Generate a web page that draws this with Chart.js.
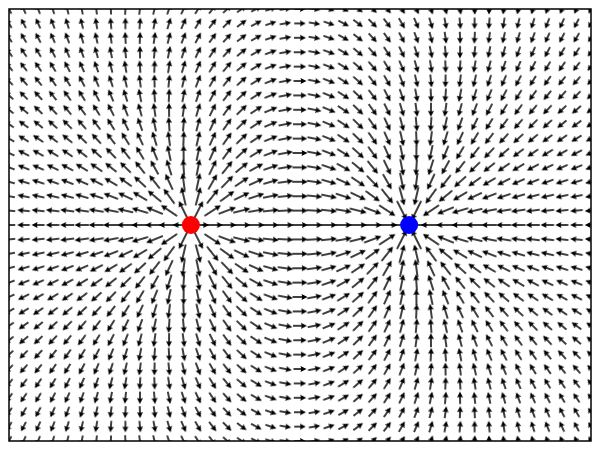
<!DOCTYPE html>
<html>
<head>
<meta charset="utf-8">
<style>
  html, body { margin: 0; padding: 0; background: #fff; }
  #wrap { width: 600px; height: 450px; }
</style>
</head>
<body>
<div id="wrap"><canvas id="myChart"></canvas></div>
<script src="https://cdn.jsdelivr.net/npm/chart.js@4/dist/chart.umd.min.js"></script>
<script>
// grid where the field arrows sit
const xGrid = [-2.0, -1.9, -1.8, -1.7, -1.6, -1.5, -1.4, -1.3, -1.2, -1.1, -1.0,
  -0.9, -0.8, -0.7, -0.6, -0.5, -0.4, -0.3, -0.2, -0.1, 0.0,
  0.1, 0.2, 0.3, 0.4, 0.5, 0.6, 0.7, 0.8, 0.9, 1.0,
  1.1, 1.2, 1.3, 1.4, 1.5, 1.6, 1.7, 1.8, 1.9, 2.0];
const yGrid = [-1.5, -1.4, -1.3, -1.2, -1.1, -1.0, -0.9, -0.8, -0.7, -0.6, -0.5,
  -0.4, -0.3, -0.2, -0.1, 0.0, 0.1, 0.2, 0.3, 0.4, 0.5,
  0.6, 0.7, 0.8, 0.9, 1.0, 1.1, 1.2, 1.3, 1.4, 1.5];

// the two point charges
const chargeX = [-0.75, 0.75];
const chargeY = [0, 0];
const chargeQ = [1, -1];
const chargeColors = ['#ff0000', '#0000ff'];

// field of the charges at (x, y)
function field(x, y) {
  let ex = 0, ey = 0;
  for (let i = 0; i < chargeQ.length; i++) {
    const dx = x - chargeX[i], dy = y - chargeY[i];
    const r3 = Math.pow(dx * dx + dy * dy, 1.5);
    ex += chargeQ[i] * dx / r3;
    ey += chargeQ[i] * dy / r3;
  }
  return [ex, ey];
}

const arrowPts = [];
yGrid.forEach(y => {
  xGrid.forEach(x => {
    const [ex, ey] = field(x, y);
    const mag = Math.hypot(ex, ey);
    let len = 13.5 + 1.8 * Math.log(mag);
    len = Math.max(8, Math.min(22, len));
    arrowPts.push({ x: x, y: y, len: len, rot: Math.atan2(-ey, ex) * 180 / Math.PI });
  });
});

// arrow pictures, centred on the grid point, pointing right
const sprites = {};
function arrowSprite(len) {
  const key = Math.round(len * 2) / 2;
  if (sprites[key]) return sprites[key];
  const half = Math.ceil(key / 2 + 3);
  const c = document.createElement('canvas');
  c.width = half * 2;
  c.height = 14;
  const g = c.getContext('2d');
  const x0 = half - key / 2, x1 = half + key / 2, cy = 7;
  const sw = 1.7, hl = Math.min(6, key * 0.5), hw = 3;
  g.fillStyle = '#000';
  g.beginPath();
  g.moveTo(x0, cy - sw / 2);
  g.lineTo(x1 - hl * 0.9, cy - sw / 2);
  g.lineTo(x1 - hl, cy - hw);
  g.lineTo(x1, cy);
  g.lineTo(x1 - hl, cy + hw);
  g.lineTo(x1 - hl * 0.9, cy + sw / 2);
  g.lineTo(x0, cy + sw / 2);
  g.closePath();
  g.fill();
  sprites[key] = c;
  return c;
}

const frame = {
  id: 'frame',
  afterDraw(chart) {
    const a = chart.chartArea, c = chart.ctx;
    c.save();
    c.strokeStyle = '#000';
    c.lineWidth = 1.5;
    c.strokeRect(a.left, a.top, a.right - a.left, a.bottom - a.top);
    c.restore();
  }
};

var ctx = document.getElementById('myChart').getContext('2d');
var chart = new Chart(ctx, {
  type: 'scatter',
  data: {
    datasets: [
      {
        label: 'charges',
        data: chargeX.map((x, i) => ({ x: x, y: chargeY[i] })),
        backgroundColor: chargeColors,
        borderWidth: 0,
        pointRadius: 9,
        pointHoverRadius: 9
      },
      {
        label: 'field',
        data: arrowPts,
        pointStyle: c => c.raw ? arrowSprite(c.raw.len) : 'circle',
        rotation: c => c.raw ? c.raw.rot : 0,
        pointRadius: 2,
        clip: 0
      }
    ]
  },
  options: {
    responsive: true,
    maintainAspectRatio: false,
    animation: false,
    events: [],
    layout: { padding: { left: 7, top: 5, right: 5, bottom: 4 } },
    scales: {
      x: { type: 'linear', min: -2, max: 2, display: false },
      y: { type: 'linear', min: -1.5, max: 1.5, display: false }
    },
    plugins: { legend: { display: false }, tooltip: { enabled: false } }
  },
  plugins: [frame]
});
</script>
</body>
</html>
